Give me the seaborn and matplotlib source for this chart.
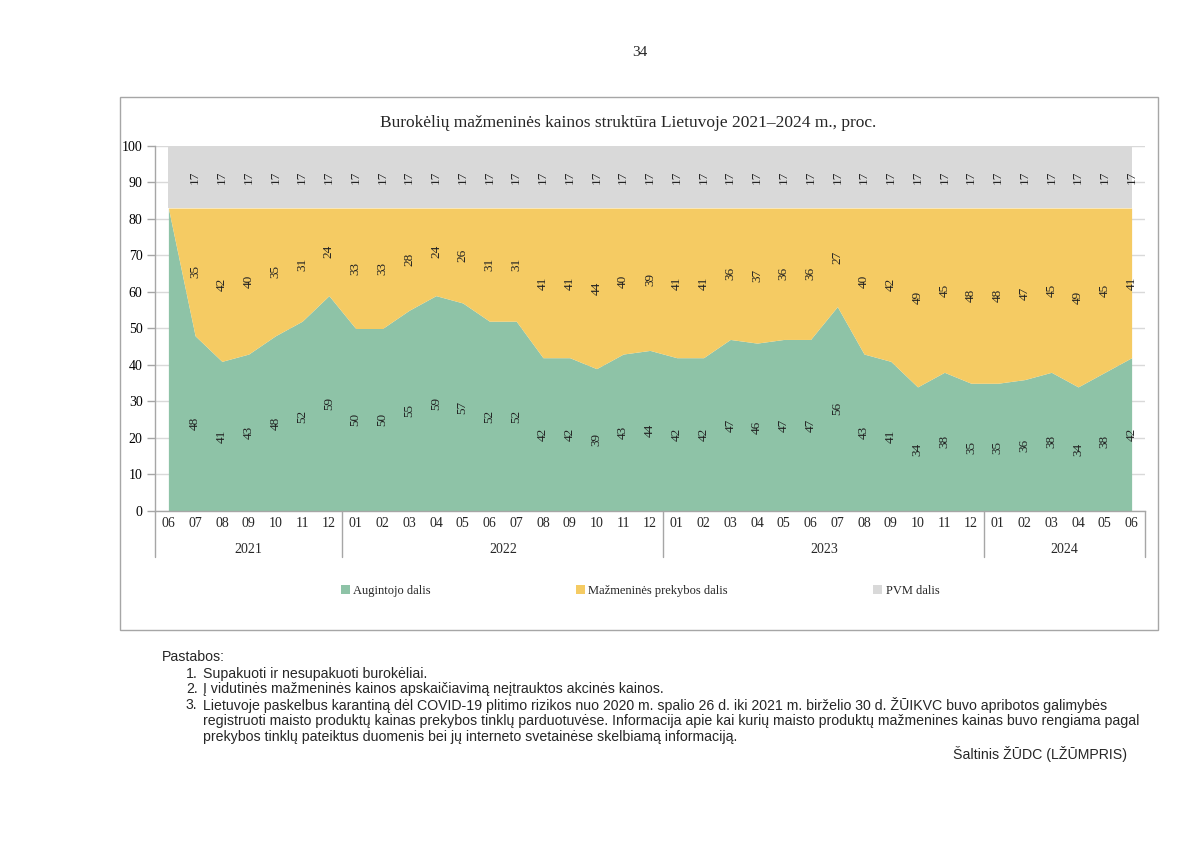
import seaborn as sns
import pandas as pd
import matplotlib.pyplot as plt
from matplotlib.patches import Patch, Rectangle
from matplotlib.lines import Line2D

months = ['06', '07', '08', '09', '10', '11', '12',
          '01', '02', '03', '04', '05', '06', '07', '08', '09', '10', '11', '12',
          '01', '02', '03', '04', '05', '06', '07', '08', '09', '10', '11', '12',
          '01', '02', '03', '04', '05', '06']
years = ['2021', '2022', '2023', '2024']
year_counts = [7, 12, 12, 6]

grower = [83, 48, 41, 43, 48, 52, 59,
          50, 50, 55, 59, 57, 52, 52, 42, 42, 39, 43, 44,
          42, 42, 47, 46, 47, 47, 56, 43, 41, 34, 38, 35,
          35, 36, 38, 34, 38, 42]
retail = [0, 35, 42, 40, 35, 31, 24,
          33, 33, 28, 24, 26, 31, 31, 41, 41, 44, 40, 39,
          41, 41, 36, 37, 36, 36, 27, 40, 42, 49, 45, 48,
          48, 47, 45, 49, 45, 41]
vat = [17] * 37

series_names = ['Augintojo dalis', 'Mažmeninės prekybos dalis', 'PVM dalis']
colors = ['#8EC3A7', '#F5CB63', '#D9D9D9']

df = pd.DataFrame({'x': range(len(months)), 'month': months,
                   series_names[0]: grower, series_names[1]: retail, series_names[2]: vat})

sns.set_theme(style='white')
plt.rcParams['font.family'] = ['Liberation Serif', 'DejaVu Serif']

fig = plt.figure(figsize=(12, 8.49), dpi=100)
ax = fig.add_axes([155 / 1200, 1 - 511 / 849, 990 / 1200, 365 / 849])

ax.stackplot(df['x'], df[series_names[0]], df[series_names[1]], df[series_names[2]],
             colors=colors, zorder=2, linewidth=0)

# value labels (first month has none)
for i in range(1, len(df)):
    g, r, v = grower[i], retail[i], vat[i]
    for val, mid in [(g, g / 2), (r, g + r / 2), (v, g + r + v / 2)]:
        ax.text(i, mid, str(val), rotation=90, ha='center', va='center',
                fontsize=9.5, color='#222222', zorder=3)

ax.set_xlim(-0.5, len(months) - 0.5)
ax.set_ylim(0, 100)
ax.set_yticks(range(0, 101, 10))
ax.set_yticklabels([str(t) for t in range(0, 101, 10)], fontsize=10)
ax.yaxis.grid(True, color='#D9D9D9', linewidth=1, zorder=0)
ax.set_axisbelow(True)
ax.tick_params(axis='y', left=True, length=6, width=1, color='#A6A6A6', pad=3, labelcolor='black')
ax.set_xticks([])
for s in ['top', 'right']:
    ax.spines[s].set_visible(False)
for s in ['left', 'bottom']:
    ax.spines[s].set_color('#A6A6A6')
    ax.spines[s].set_linewidth(1)

# multi-level category axis
tr = ax.get_xaxis_transform()
for i, m in enumerate(months):
    ax.text(i, -0.033, m, transform=tr, ha='center', va='center', fontsize=10)
start = 0
bounds = [start]
for y, n in zip(years, year_counts):
    ax.text(start + n / 2 - 0.5, -0.105, y, transform=tr, ha='center', va='center', fontsize=10)
    start += n
    bounds.append(start)
for b in bounds:
    ax.add_line(Line2D([b - 0.5, b - 0.5], [0, -0.126], transform=tr, color='#A6A6A6',
                       linewidth=1, clip_on=False))

fig.text(628 / 1200, 1 - 123 / 849,
         'Burokėlių mažmeninės kainos struktūra Lietuvoje 2021–2024 m., proc.',
         ha='center', va='center', fontsize=12.5)

handles = [Patch(facecolor=c, edgecolor='none', label=n) for c, n in zip(colors, series_names)]
fig.legend(handles=handles, loc='center', bbox_to_anchor=(640 / 1200, 1 - 591 / 849), ncol=3,
           frameon=False, fontsize=9, handlelength=0.7, handleheight=0.7, handletextpad=0.3,
           columnspacing=11.6)

# chart frame
fig.patches.append(Rectangle((120 / 1200, 1 - 630 / 849), 1038 / 1200, 533 / 849,
                             transform=fig.transFigure, fill=False, edgecolor='#A6A6A6',
                             linewidth=1))

fig.text(640 / 1200, 1 - 52 / 849, '34', ha='center', va='center', fontsize=11)

sans = ['Liberation Sans', 'DejaVu Sans']
fs = 10.2
fig.text(162 / 1200, 1 - 657 / 849, 'Pastabos:', family=sans, fontsize=fs, va='center')
notes = [
    ('1.', 674, 'Supakuoti ir nesupakuoti burokėliai.'),
    ('2.', 689, 'Į vidutinės mažmeninės kainos apskaičiavimą neįtrauktos akcinės kainos.'),
    ('3.', 705, 'Lietuvoje paskelbus karantiną dėl COVID-19 plitimo rizikos nuo 2020 m. spalio 26 d. '
                'iki 2021 m. birželio 30 d. ŽŪIKVC buvo apribotos galimybės'),
    ('', 721, 'registruoti maisto produktų kainas prekybos tinklų parduotuvėse. Informacija apie kai '
              'kurių maisto produktų mažmenines kainas buvo rengiama pagal'),
    ('', 737, 'prekybos tinklų pateiktus duomenis bei jų interneto svetainėse skelbiamą informaciją.'),
]
for num, ypx, txt in notes:
    if num:
        fig.text(186 / 1200, 1 - ypx / 849, num, family=sans, fontsize=fs, va='center')
    fig.text(203 / 1200, 1 - ypx / 849, txt, family=sans, fontsize=fs, va='center')
fig.text(1127 / 1200, 1 - 754 / 849, 'Šaltinis ŽŪDC (LŽŪMPRIS)', family=sans, fontsize=fs,
         va='center', ha='right')

fig.savefig('out.png', dpi=100)
